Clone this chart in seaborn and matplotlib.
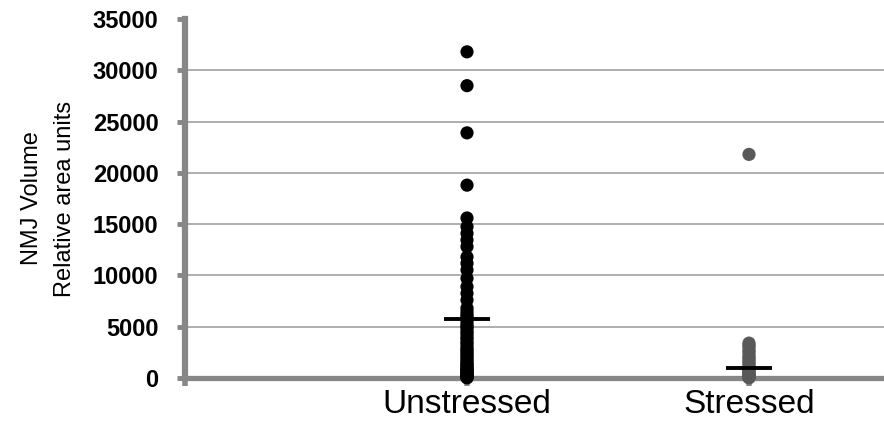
import matplotlib
matplotlib.use("Agg")
import matplotlib.pyplot as plt
import seaborn as sns
import pandas as pd

categories = ["", "Unstressed", "Stressed"]

unstressed = [31800, 28500, 23900, 18800, 15600, 14750, 14100, 13450, 12800,
              11800, 11180, 10530, 9710, 8900, 8250, 7600, 6820, 6500, 6200,
              6000, 5800, 5500, 5200, 5000, 4800, 4500, 4300, 4000, 3800, 3500,
              3300, 3000, 2800, 2600, 2400, 2200, 2000, 1800, 1600, 1400, 1300,
              1200, 1000, 900, 800, 700, 600, 500, 400, 300, 250, 200, 150, 100,
              50, 20]
stressed = [21800, 3400, 3200, 3000, 2700, 2500, 2200, 2000, 1800, 1600, 1400,
            1200, 1000, 900, 800, 700, 600, 500, 400, 300, 200, 150, 100, 50, 20]

means = [5800, 1000]
y_ticks = [0, 5000, 10000, 15000, 20000, 25000, 30000, 35000]

df = pd.DataFrame({
    "group": ["Unstressed"] * len(unstressed) + ["Stressed"] * len(stressed),
    "value": unstressed + stressed,
})

sns.set_style("white")
plt.rcParams["font.family"] = ["Liberation Sans", "DejaVu Sans"]
plt.rcParams["text.color"] = "black"
plt.rcParams["axes.labelcolor"] = "black"

fig = plt.figure(figsize=(8.84, 4.41), dpi=100)
ax = fig.add_axes([185 / 884, 1 - 378 / 441, 1 - 185 / 884, (378 - 19) / 441])

axis_grey = "#878787"

ax.set_ylim(0, 35000)
ax.set_yticks(y_ticks)
ax.yaxis.grid(True, color="#a8a8a8", linewidth=1.3)
ax.set_axisbelow(True)

sns.stripplot(data=df, x="group", y="value", order=categories, hue="group",
              hue_order=["Unstressed", "Stressed"],
              palette={"Unstressed": "#000000", "Stressed": "#595959"},
              jitter=False, size=9.5, linewidth=0, ax=ax, legend=False, zorder=3)
for coll in ax.collections:
    coll.set_clip_on(False)

pos = {c: i for i, c in enumerate(categories)}
for cat, m in zip(["Unstressed", "Stressed"], means):
    x = pos[cat]
    ax.hlines(m, x - 0.083, x + 0.083, color="black", linewidth=2.8, zorder=7,
              clip_on=False)

ax.set_xlim(0, (884 - 185) / 282)
ax.set_xticks([0, 1, 2])
ax.set_xticklabels(categories, fontsize=24, color="black")
ax.set_yticklabels([str(t) for t in y_ticks], fontsize=17, fontweight="bold",
                   color="black")
ax.set_xlabel("")
ax.set_ylabel("NMJ Volume\nRelative area units", fontsize=17, color="black",
              linespacing=1.65, labelpad=12)

ax.get_ygridlines()[-1].set_visible(False)

for s in ["top", "right"]:
    ax.spines[s].set_visible(False)
ax.spines["left"].set_color(axis_grey)
ax.spines["left"].set_linewidth(4.5)
ax.spines["bottom"].set_color(axis_grey)
ax.spines["bottom"].set_linewidth(3.8)
ax.spines["left"].set_zorder(6)
ax.spines["bottom"].set_zorder(2.5)

ax.tick_params(axis="y", direction="out", length=6, width=3.5, color=axis_grey,
               pad=13, left=True)
ax.tick_params(axis="x", direction="out", length=6, width=4, color=axis_grey,
               pad=2, bottom=True)

fig.savefig("out.png", dpi=100)
